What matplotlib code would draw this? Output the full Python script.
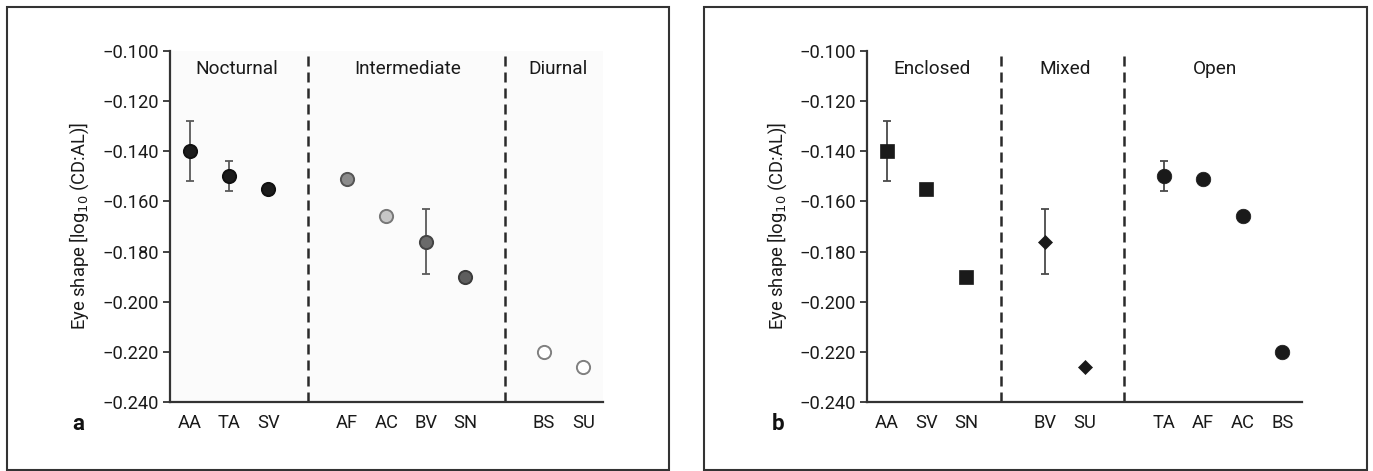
import matplotlib
matplotlib.use("Agg")
import matplotlib.pyplot as plt
from matplotlib.patches import Rectangle

plt.rcParams['font.family'] = ['Roboto', 'DejaVu Sans']

# ---- data panel a ----
a_groups = ['Nocturnal', 'Intermediate', 'Diurnal']
a_group_sizes = [3, 4, 2]
a_labels = ['AA', 'TA', 'SV', 'AF', 'AC', 'BV', 'SN', 'BS', 'SU']
a_values = [-0.140, -0.150, -0.155, -0.151, -0.166, -0.176, -0.190, -0.220, -0.226]
a_err_low = [0.012, 0.006, 0.0, 0.0, 0.0, 0.013, 0.0, 0.0, 0.0]
a_err_high = [0.012, 0.006, 0.0, 0.0, 0.0, 0.013, 0.0, 0.0, 0.0]

# ---- data panel b ----
b_groups = ['Enclosed', 'Mixed', 'Open']
b_group_sizes = [3, 2, 4]
b_labels = ['AA', 'SV', 'SN', 'BV', 'SU', 'TA', 'AF', 'AC', 'BS']
b_values = [-0.140, -0.155, -0.190, -0.176, -0.226, -0.150, -0.151, -0.166, -0.220]
b_err_low = [0.012, 0.0, 0.0, 0.013, 0.0, 0.006, 0.0, 0.0, 0.0]
b_err_high = [0.012, 0.0, 0.0, 0.013, 0.0, 0.006, 0.0, 0.0, 0.0]

y_ticks = [-0.100, -0.120, -0.140, -0.160, -0.180, -0.200, -0.220, -0.240]

# styles
FS = 13.2
TXT = '#1a1a1a'
a_face = ['#1c1c1c', '#1c1c1c', '#1c1c1c', '#8c8c8c', '#c6c6c6', '#6a6a6a', '#5e5e5e', 'white', 'white']
a_edge = ['#111111', '#111111', '#111111', '#555555', '#777777', '#444444', '#3c3c3c', '#808080', '#808080']
b_marker_by_group = ['s', 'D', 'o']
b_size_by_group = [9.5, 7.5, 10.5]


def positions(sizes):
    pos, seps = [], []
    x = 1
    for i, n in enumerate(sizes):
        for _ in range(n):
            pos.append(x)
            x += 1
        if i < len(sizes) - 1:
            seps.append(x)
            x += 1
    return pos, seps


def style_axes(ax, labels, pos, face, label_x):
    ax.set_facecolor(face)
    ax.set_xlim(0.5, 11.5)
    ax.set_ylim(-0.240, -0.100)
    ax.set_yticks(y_ticks)
    ax.set_yticklabels([f"\u2212{abs(t):.3f}" for t in y_ticks], fontsize=FS, color=TXT)
    ax.set_xticks(pos)
    ax.set_xticklabels(labels, fontsize=FS, color=TXT)
    ax.tick_params(axis='x', length=0, pad=9)
    ax.tick_params(axis='y', length=5, width=1.3, color='#333333', direction='out', pad=3)
    for s in ['top', 'right']:
        ax.spines[s].set_visible(False)
    for s in ['left', 'bottom']:
        ax.spines[s].set_linewidth(1.6)
        ax.spines[s].set_color('#333333')
    ax.set_ylabel('Eye shape [log$_{10}$ (CD:AL)]', fontsize=FS, color=TXT)
    ax.yaxis.set_label_coords(label_x, 0.5)


fig = plt.figure(figsize=(13.73, 4.71), dpi=100)
fig.patch.set_facecolor('white')

# panel a
axa = fig.add_axes([0.1238, 0.1465, 0.3154, 0.7452])
pa, sa = positions(a_group_sizes)
style_axes(axa, a_labels, pa, '#fbfbfb', -0.182)
for s in sa:
    axa.axvline(s, color='#2a2a2a', lw=1.8, linestyle=(0, (4, 2.4)), zorder=1)
for i in range(len(a_values)):
    if a_err_low[i] > 0:
        axa.errorbar(pa[i], a_values[i], yerr=[[a_err_low[i]], [a_err_high[i]]], fmt='none',
                     ecolor='#5a5a5a', elinewidth=1.3, capsize=3, capthick=1.3, zorder=2)
    axa.plot(pa[i], a_values[i], 'o', ms=9.5, mfc=a_face[i], mec=a_edge[i], mew=1.4, zorder=3)
a_centers = [2.2, 6.55, 10.35]
for g, cx in zip(a_groups, a_centers):
    axa.text(cx, -0.107, g, ha='center', va='center', fontsize=FS + 0.5, color=TXT)

# panel b
axb = fig.add_axes([0.6315, 0.1465, 0.3168, 0.7452])
pb, sb = positions(b_group_sizes)
style_axes(axb, b_labels, pb, 'white', -0.179)
sb = [sb[0] - 0.12, sb[1]]
for s in sb:
    axb.axvline(s, color='#2a2a2a', lw=1.8, linestyle=(0, (4, 2.4)), zorder=1)
idx = 0
for gi, n in enumerate(b_group_sizes):
    for _ in range(n):
        if b_err_low[idx] > 0:
            axb.errorbar(pb[idx], b_values[idx], yerr=[[b_err_low[idx]], [b_err_high[idx]]], fmt='none',
                         ecolor='#4a4a4a', elinewidth=1.3, capsize=3, capthick=1.3, zorder=2)
        axb.plot(pb[idx], b_values[idx], b_marker_by_group[gi], ms=b_size_by_group[gi],
                 mfc='#1a1a1a', mec='#1a1a1a', mew=0.5, zorder=3)
        idx += 1
b_centers = [2.15, 5.5, 9.3]
for g, cx in zip(b_groups, b_centers):
    axb.text(cx, -0.107, g, ha='center', va='center', fontsize=FS + 0.5, color=TXT)

# panel letters
fig.text(78 / 1373, 1 - 424 / 471, 'a', ha='center', va='center', fontsize=16, weight='bold', color='#111111')
fig.text(778 / 1373, 1 - 424 / 471, 'b', ha='center', va='center', fontsize=16, weight='bold', color='#111111')

# outer boxes
fig.add_artist(Rectangle((7 / 1373, 1 / 471), (669 - 7) / 1373, (470 - 7) / 471,
                         transform=fig.transFigure, fill=False, edgecolor='#333333', lw=1.5))
fig.add_artist(Rectangle((704 / 1373, 1 / 471), (1367 - 704) / 1373, (470 - 7) / 471,
                         transform=fig.transFigure, fill=False, edgecolor='#333333', lw=1.5))

fig.savefig('out.png', dpi=100, facecolor='white')
